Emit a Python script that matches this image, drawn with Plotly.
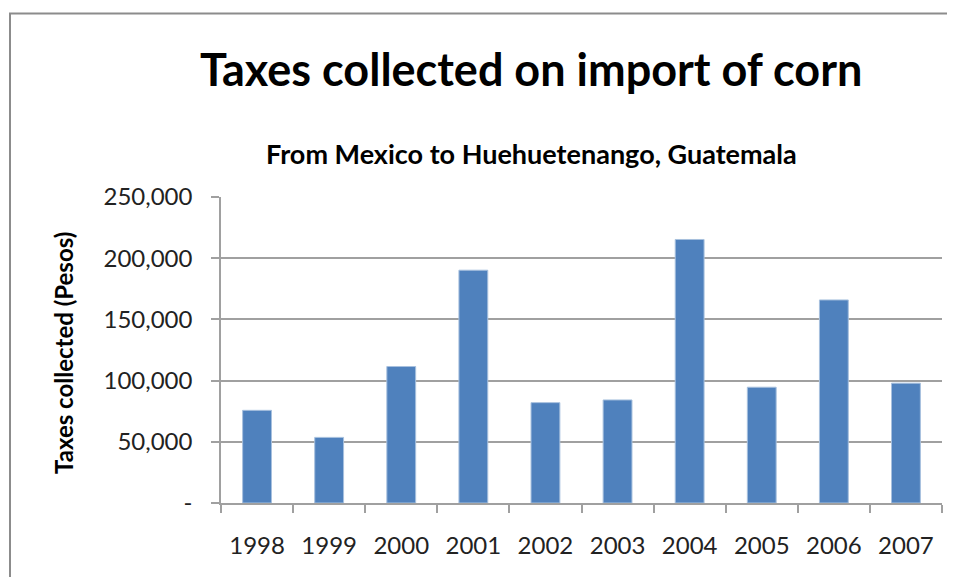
import plotly.graph_objects as go

years = ["1998", "1999", "2000", "2001", "2002", "2003", "2004", "2005", "2006", "2007"]
taxes = [75700, 53600, 111500, 190200, 82000, 84200, 215300, 94600, 165900, 97900]
ytick_vals = [0, 50000, 100000, 150000, 200000, 250000]
ytick_text = ["-", "50,000", "100,000", "150,000", "200,000", "250,000"]

FONT = "Lato, 'Open Sans', sans-serif"

# page body has an 8px margin; work in window coordinates and shift
OFF = 8
W, H = 955 - 2 * OFF, 585 - 2 * OFF
L, R, T, B = 221 - OFF, 942 - OFF, 197 - OFF, 503 - OFF
pw, ph = R - L, B - T

def px(x):
    return (x - OFF - L) / pw

def py(y):
    return (B - (y - OFF)) / ph

fig = go.Figure(
    go.Bar(
        x=years,
        y=taxes,
        marker=dict(color="#4F81BD", line=dict(color="#A7C0DE", width=1)),
    )
)

fig.update_layout(
    width=W,
    height=H,
    margin=dict(l=L, r=W - R, t=T, b=H - B, pad=0),
    paper_bgcolor="white",
    plot_bgcolor="white",
    bargap=0.6,
    showlegend=False,
    font=dict(family=FONT, color="#222222"),
    annotations=[
        dict(text="<b>Taxes collected on import of corn</b>", x=px(530.5), y=py(69),
             xref="paper", yref="paper", showarrow=False, xanchor="center", yanchor="middle",
             font=dict(size=45, color="black", family=FONT)),
        dict(text="<b>From Mexico to Huehuetenango, Guatemala</b>", x=px(531), y=py(153),
             xref="paper", yref="paper", showarrow=False, xanchor="center", yanchor="middle",
             font=dict(size=27, color="black", family=FONT)),
        dict(text="<b>Taxes collected (Pesos)</b>", x=px(63), y=py(353), textangle=-90,
             xref="paper", yref="paper", showarrow=False, xanchor="center", yanchor="middle",
             font=dict(size=24, color="black", family=FONT)),
    ],
    shapes=[
        dict(type="line", xref="paper", yref="paper",
             x0=px(10), x1=px(10), y0=py(600), y1=py(13.5),
             line=dict(color="#8C8C8C", width=2), layer="below"),
        dict(type="line", xref="paper", yref="paper",
             x0=px(9), x1=px(1000), y0=py(13.5), y1=py(13.5),
             line=dict(color="#8C8C8C", width=2), layer="below"),
    ],
)

fig.update_xaxes(
    type="category",
    showline=True, linecolor="#A0A0A0", linewidth=1.5,
    ticks="outside", ticklen=8, tickcolor="#A0A0A0", tickwidth=1.5,
    tickson="boundaries",
    showgrid=False,
    tickfont=dict(size=24, color="#222222", family=FONT),
    ticklabelstandoff=20,
)

fig.update_yaxes(
    range=[0, 250000],
    tickvals=ytick_vals, ticktext=ytick_text,
    showline=True, linecolor="#A0A0A0", linewidth=1.5,
    ticks="outside", ticklen=8, tickcolor="#A0A0A0", tickwidth=1.5,
    showgrid=True, gridcolor="#A0A0A0", gridwidth=1.5,
    zeroline=False,
    tickfont=dict(size=24, color="#222222", family=FONT),
    ticklabelstandoff=14,
)

fig.write_html("out.html")
